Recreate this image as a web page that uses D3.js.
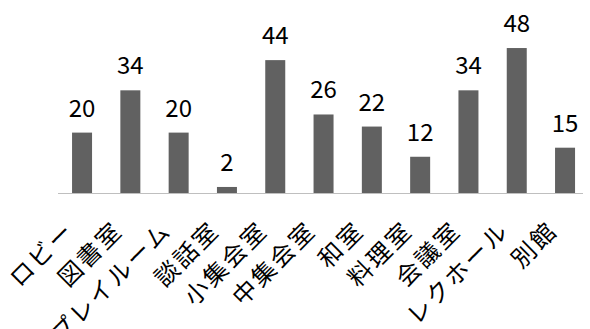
<!DOCTYPE html>
<html><head><meta charset="utf-8">
<script src="https://cdn.jsdelivr.net/npm/d3@7"></script>
<style>body{margin:0;background:#fff}svg{display:block}</style>
</head><body><svg id="c" width="590" height="329"></svg>
<script>
const categories = ["ロビー","図書室","プレイルーム","談話室","小集会室","中集会室","和室","料理室","会議室","レクホール","別館"];
const values = [20,34,20,2,44,26,22,12,34,48,15];

const svg = d3.select("#c");
const x = d3.scaleBand().domain(categories).range([57.9, 589.2]).paddingInner(0.586).paddingOuter(0.293);
const y = d3.scaleLinear().domain([0,50]).range([193,42]);
const font = "'Noto Sans CJK JP', sans-serif";

svg.selectAll("rect.bar").data(values).join("rect")
  .attr("class","bar")
  .attr("x",(d,i)=>x(categories[i]))
  .attr("width",x.bandwidth())
  .attr("y",d=>y(d))
  .attr("height",d=>y(0)-y(d))
  .attr("fill","#616161");

svg.append("line").attr("x1",58).attr("x2",583).attr("y1",193.5).attr("y2",193.5)
  .attr("stroke","#bfbfbf").attr("stroke-width",1);

svg.selectAll("text.val").data(values).join("text")
  .attr("class","val")
  .attr("x",(d,i)=>x(categories[i])+x.bandwidth()/2)
  .attr("y",d=>y(d)-16)
  .attr("text-anchor","middle")
  .attr("font-family",font).attr("font-size",24).attr("fill","#000")
  .text(d=>d);

svg.selectAll("text.cat").data(categories).join("text")
  .attr("class","cat")
  .attr("transform",d=>`translate(${x(d)+x.bandwidth()/2-6},232) rotate(-45)`)
  .attr("text-anchor","end")
  .attr("font-family",font).attr("font-size",24).attr("letter-spacing","2.5px").attr("fill","#000")
  .text(d=>d);
</script></body></html>
